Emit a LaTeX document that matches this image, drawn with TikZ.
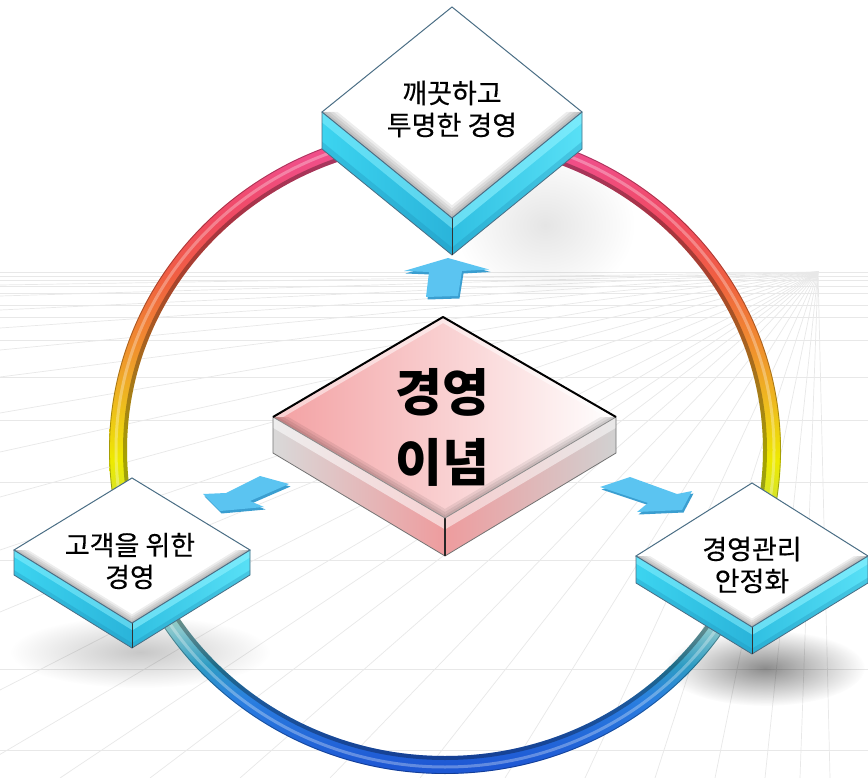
\documentclass[tikz,border=0pt]{standalone}
\usepackage{fontspec}
\setmainfont{Noto Sans CJK KR}
\usetikzlibrary{calc,fadings}
\definecolor{gridc}{HTML}{E8E8E8}
\definecolor{rb1}{HTML}{1E58D4}
\definecolor{rb2}{HTML}{2A7EE0}
\definecolor{rb3}{HTML}{2E9CC4}
\definecolor{rb4}{HTML}{86C6CC}
\definecolor{rb5}{HTML}{A8D4B0}
\definecolor{rb6}{HTML}{C8E040}
\definecolor{ry}{HTML}{EEEA00}
\definecolor{ro1}{HTML}{EEB820}
\definecolor{ro2}{HTML}{F08A30}
\definecolor{ro3}{HTML}{F06040}
\definecolor{rr}{HTML}{F04A60}
\definecolor{rp}{HTML}{F04E88}
\definecolor{cyA}{HTML}{3CD4F0}
\definecolor{cyB}{HTML}{2AB4DA}
\definecolor{cyC}{HTML}{30C0E2}
\definecolor{cyD}{HTML}{58E0F6}
\definecolor{cyHi}{HTML}{8EF2FF}
\definecolor{cyDk}{HTML}{1F8FB8}
\definecolor{edgec}{HTML}{4A6E85}
\definecolor{pinkA}{HTML}{F3A0A2}
\definecolor{pinkB}{HTML}{EE9C9E}
\definecolor{arrowc}{HTML}{5BC4F1}
\definecolor{arrowd}{HTML}{3A9ED0}
\pgfdeclareverticalshading{ringshade}{100bp}{color(0bp)=(rb1); color(25.7bp)=(rb1); color(30.7bp)=(rb2); color(33.4bp)=(rb3); color(36.1bp)=(rb4); color(38.4bp)=(rb5); color(44.6bp)=(rb6); color(49.2bp)=(ry); color(53.9bp)=(ro1); color(58.5bp)=(ro2); color(63.1bp)=(ro3); color(67.7bp)=(rr); color(72.4bp)=(rp); color(100bp)=(rp)}
\tikzfading[name=softfade, inner color=transparent!0, outer color=transparent!100]
\newfontfamily\krlabel[FakeBold=0.4]{Noto Sans CJK KR}
\tikzset{
  gridline/.style={gridc, line width=0.7pt},
  label/.style={align=center, font=\krlabel\fontsize{27}{32}\selectfont},
  biglabel/.style={align=center, font=\bfseries\fontsize{51}{70}\selectfont},
  fuzzy/.style={path fading=softfade}
}
\newcommand\cyanprism[7]{%
 \coordinate (#7T) at (#1,#2);
 \coordinate (#7L) at ({#1-#3},#4);
 \coordinate (#7R) at ({#1+#3},#4);
 \coordinate (#7B) at (#1,#5);
 \coordinate (#7C) at (#1,#4);
 \coordinate (#7Ld) at ({#1-#3},{#4+#6});
 \coordinate (#7Rd) at ({#1+#3},{#4+#6});
 \coordinate (#7Bd) at (#1,{#5+#6});
 \shade[left color=cyA, right color=cyB] (#7L) -- (#7B) -- (#7Bd) -- (#7Ld) -- cycle;
 \fill[cyHi, opacity=.5] (#7L) -- (#7B) -- ($(#7B)!.28!(#7Bd)$) -- ($(#7L)!.28!(#7Ld)$) -- cycle;
 \fill[cyDk, opacity=.3] ($(#7L)!.8!(#7Ld)$) -- ($(#7B)!.8!(#7Bd)$) -- (#7Bd) -- (#7Ld) -- cycle;
 \shade[left color=cyC, right color=cyD] (#7B) -- (#7R) -- (#7Rd) -- (#7Bd) -- cycle;
 \fill[cyHi, opacity=.6] (#7B) -- (#7R) -- ($(#7R)!.3!(#7Rd)$) -- ($(#7B)!.3!(#7Bd)$) -- cycle;
 \fill[cyDk, opacity=.3] ($(#7B)!.8!(#7Bd)$) -- ($(#7R)!.8!(#7Rd)$) -- (#7Rd) -- (#7Bd) -- cycle;
 \draw[edgec, line width=.8pt] (#7L) -- (#7Ld) -- (#7Bd) -- (#7Rd) -- (#7R);
 \draw[black!80, line width=1pt] (#7B) -- (#7Bd);
 \fill[white] (#7T) -- (#7L) -- (#7B) -- (#7R) -- cycle;
 \foreach \sv in {0.03,0.06,0.09,0.12}{
   \fill[black, opacity=.07] (#7L) -- (#7B) -- ($(#7B)!\sv!(#7C)$) -- ($(#7L)!\sv!(#7C)$) -- cycle;
   \fill[black, opacity=.07] (#7B) -- (#7R) -- ($(#7R)!\sv!(#7C)$) -- ($(#7B)!\sv!(#7C)$) -- cycle;
 }
 \draw[edgec, line width=1pt] (#7T) -- (#7L) -- (#7B) -- (#7R) -- cycle;
}
\begin{document}
\begin{tikzpicture}[x=1pt,y=-1pt]
\useasboundingbox (0,0) rectangle (868,778);
\fill[white] (0,0) rectangle (868,778);
% perspective floor grid
\begin{scope}
\clip (0,271) rectangle (868,778);
\foreach \yy in {272,276,280,286,293,305,317,340,377,420,482,560,669,750}
  \draw[gridline] (0,\yy) -- (868,\yy);
\foreach \yy in {285,296,310,328,350,377,413,452,497,550,612,690}
  \draw[gridline] (818,272) -- (0,\yy);
\foreach \xx in {-40,60,150,240,330,420,505,585,655,715,765,800,830}
  \draw[gridline] (818,272) -- (\xx,778);
\end{scope}
% soft shadows
\fill[black, opacity=.10, fuzzy] (545,225) ellipse [x radius=90pt, y radius=75pt];
\fill[black, opacity=.45, fuzzy] (765,668) ellipse [x radius=100pt, y radius=38pt];
\fill[black, opacity=.22, fuzzy] (140,652) ellipse [x radius=130pt, y radius=36pt];
% ring
\shade[shading=ringshade, even odd rule] (445,450) ellipse [x radius=336pt, y radius=324pt] (445,450) ellipse [x radius=318pt, y radius=306pt];
\draw[black, opacity=.3, line width=4pt] (445,450) ellipse [x radius=320pt, y radius=308pt];
\draw[white, opacity=.3, line width=3pt] (445,450) ellipse [x radius=329pt, y radius=317pt];
\draw[black, opacity=.3, line width=.8pt] (445,450) ellipse [x radius=335.5pt, y radius=323.5pt];
% top prism
\cyanprism{452}{7}{130}{112}{218}{37}{p1}
% center prism
\coordinate (cT) at (443,317);
\coordinate (cL) at (273,417);
\coordinate (cR) at (616,417);
\coordinate (cB) at (445,518);
\coordinate (cC) at (444,417);
\coordinate (cLd) at (273,453);
\coordinate (cRd) at (616,453);
\coordinate (cBd) at (445,556);
\shade[left color=black!15, middle color=white, right color=pinkB] (cL) -- (cB) -- (cBd) -- (cLd) -- cycle;
\fill[white, opacity=.55] (cL) -- (cB) -- ($(cB)!.3!(cBd)$) -- ($(cL)!.3!(cLd)$) -- cycle;
\shade[left color=pinkB, middle color=pinkA!40, right color=black!18] (cB) -- (cR) -- (cRd) -- (cBd) -- cycle;
\fill[white, opacity=.5] (cB) -- (cR) -- ($(cR)!.3!(cRd)$) -- ($(cB)!.3!(cBd)$) -- cycle;
\draw[black!55, line width=.8pt] (cL) -- (cLd) -- (cBd) -- (cRd) -- (cR);
\draw[black!85, line width=1.2pt] (cB) -- (cBd);
\shade[left color=pinkA, right color=white] (cT) -- (cL) -- (cB) -- (cR) -- cycle;
\fill[white, opacity=.5] (cT) -- (cL) -- ($(cL)!.06!(cC)$) -- ($(cT)!.06!(cC)$) -- cycle;
\fill[white, opacity=.5] (cT) -- (cR) -- ($(cR)!.06!(cC)$) -- ($(cT)!.06!(cC)$) -- cycle;
\foreach \sv in {0.03,0.06,0.09}{
  \fill[black, opacity=.07] (cL) -- (cB) -- ($(cB)!\sv!(cC)$) -- ($(cL)!\sv!(cC)$) -- cycle;
  \fill[black, opacity=.07] (cB) -- (cR) -- ($(cR)!\sv!(cC)$) -- ($(cB)!\sv!(cC)$) -- cycle;
}
\draw[black!45, line width=.8pt] (cL) -- (cB) -- (cR);
\draw[black, line width=2pt, line join=round] (cL) -- (cT) -- (cR);
% arrows
\begin{scope}[shift={(1.5,2.5)}]
\fill[arrowd] (448,258) -- (489,269.5) -- (462,271) -- (458,296) -- (426,297) -- (429,272) -- (404,271) -- cycle;
\fill[arrowd] (260,476) -- (289,484) -- (250,501) -- (264,507) -- (220,511) -- (203,494) -- (226,493) -- cycle;
\fill[arrowd] (600,487) -- (630,477) -- (677,494) -- (692,491) -- (682,510) -- (637,512) -- (648,503) -- cycle;
\end{scope}
\fill[arrowc] (448,258) -- (489,269.5) -- (462,271) -- (458,296) -- (426,297) -- (429,272) -- (404,271) -- cycle;
\fill[arrowc] (260,476) -- (289,484) -- (250,501) -- (264,507) -- (220,511) -- (203,494) -- (226,493) -- cycle;
\fill[arrowc] (600,487) -- (630,477) -- (677,494) -- (692,491) -- (682,510) -- (637,512) -- (648,503) -- cycle;
% side prisms
\cyanprism{132}{478}{118}{550}{623}{25}{p2}
\cyanprism{752}{483}{116}{556}{627}{27}{p3}
% labels
\node[label] (ttop) at (452,109) {깨끗하고\\투명한 경영};
\node[biglabel] (tcen) at (442,427) {경영\\이념};
\node[label] (tleft) at (130,561) {고객을 위한\\경영};
\node[label] (tright) at (752,565) {경영관리\\안정화};
\end{tikzpicture}
\end{document}
